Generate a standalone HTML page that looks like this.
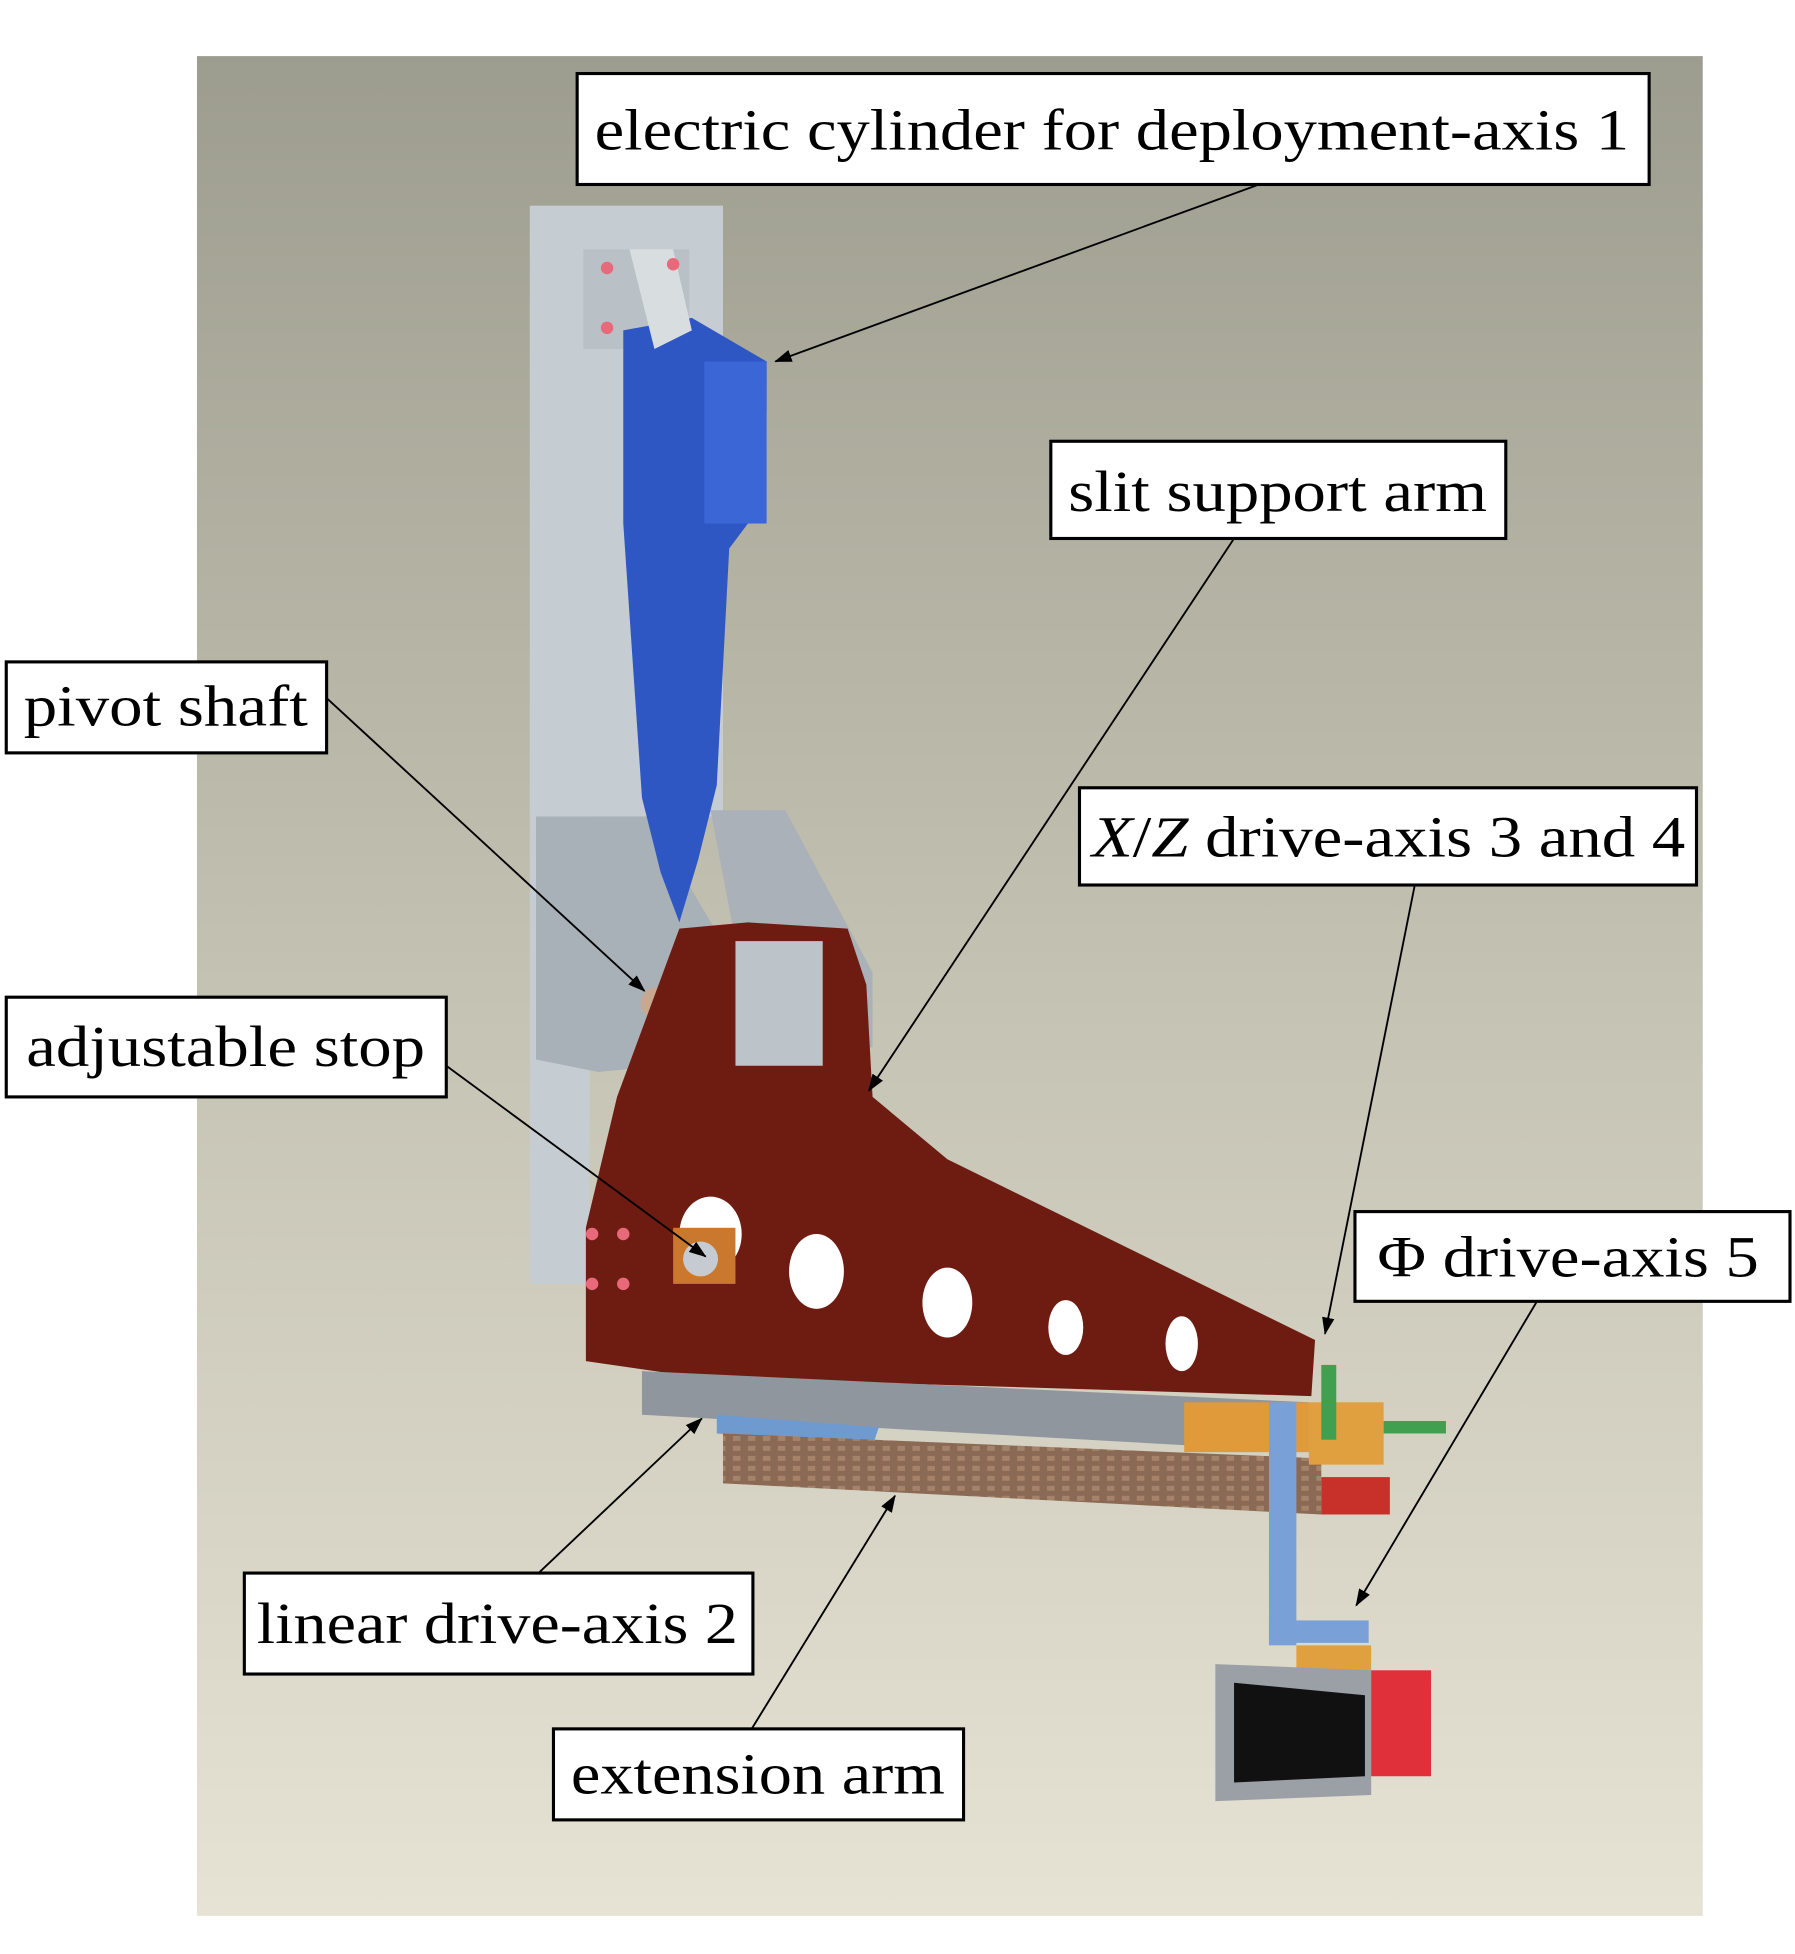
<!DOCTYPE html>
<html><head><meta charset="utf-8"><style>
html,body{margin:0;padding:0;background:#fff;}
svg{display:block;}
text{font-family:"Liberation Serif",serif;font-size:47px;fill:#000;}
</style></head><body>
<svg width="1795" height="1954" viewBox="0 0 1440 1567.6" xmlns="http://www.w3.org/2000/svg">
<defs>
<linearGradient id="bg" x1="0" y1="0" x2="0" y2="1">
<stop offset="0" stop-color="#9d9d8f"/><stop offset="0.5" stop-color="#c4c2b2"/><stop offset="1" stop-color="#e6e2d4"/>
</linearGradient>
<marker id="ar" markerWidth="14" markerHeight="10" refX="13" refY="5" orient="auto" markerUnits="userSpaceOnUse">
<path d="M0,0 L14,5 L0,10 z" fill="#000"/></marker>
<pattern id="st" width="12" height="8" patternUnits="userSpaceOnUse">
<rect width="12" height="8" fill="#8a6a55"/><rect width="6" height="4" fill="#a5826a"/></pattern>
</defs>
<rect x="0" y="0" width="1440" height="1568" fill="#fff"/>
<rect x="158" y="45" width="1208" height="1492" fill="url(#bg)"/>
<rect x="425" y="165" width="155" height="490" fill="#c6cdd2"/>
<rect x="425" y="650" width="48" height="380" fill="#c6cdd2"/>
<rect x="468" y="200" width="85" height="80" fill="#b9c0c6"/>
<polygon points="430,655 520,655 600,790 580,850 480,860 430,850" fill="#a8b0b8"/>
<polygon points="570,650 630,650 700,780 700,840 610,860" fill="#aab1b8"/>
<circle cx="527" cy="805" r="13" fill="#c8a890"/>
<polygon points="500,265 555,255 615,290 615,330 600,420 585,440 575,630 560,690 545,740 530,700 515,640 500,420" fill="#2f57c4"/>
<rect x="565" y="290" width="50" height="130" fill="#3a66d6"/>
<polygon points="505,200 540,200 555,265 525,280" fill="#d8dde0"/>
<polygon points="545,745 600,740 680,745 695,790 700,880 760,930 1055,1075 1052,1120 560,1105 470,1092 470,985 495,880" fill="#6e1c12"/>
<rect x="590" y="755" width="70" height="100" fill="#bcc4ca"/>
<ellipse cx="570" cy="990" rx="25" ry="30" fill="#fff"/>
<ellipse cx="655" cy="1020" rx="22" ry="30" fill="#fff"/>
<ellipse cx="760" cy="1045" rx="20" ry="28" fill="#fff"/>
<ellipse cx="855" cy="1065" rx="14" ry="22" fill="#fff"/>
<ellipse cx="948" cy="1078" rx="13" ry="22" fill="#fff"/>
<rect x="540" y="985" width="50" height="45" fill="#c9782e"/>
<circle cx="562" cy="1010" r="14" fill="#c5cbd0"/>
<g fill="#e86a7a"><circle cx="475" cy="990" r="5"/><circle cx="500" cy="990" r="5"/><circle cx="475" cy="1030" r="5"/><circle cx="500" cy="1030" r="5"/><circle cx="487" cy="215" r="5"/><circle cx="540" cy="212" r="5"/><circle cx="487" cy="263" r="5"/></g>
<polygon points="515,1100 1050,1125 1050,1165 515,1135" fill="#8f969d"/>
<polygon points="575,1135 705,1145 700,1160 575,1150" fill="#6f9ad0"/>
<polygon points="580,1150 1060,1170 1060,1215 580,1190" fill="url(#st)"/>
<rect x="950" y="1125" width="100" height="40" fill="#e09a3a"/>
<rect x="1060" y="1185" width="55" height="30" fill="#c8302a"/>
<rect x="1050" y="1125" width="60" height="50" fill="#e0a040"/>
<rect x="1018" y="1125" width="22" height="195" fill="#7aa0d8"/>
<rect x="1018" y="1300" width="80" height="18" fill="#7aa0d8"/>
<rect x="1060" y="1095" width="12" height="60" fill="#40a050"/>
<rect x="1110" y="1140" width="50" height="10" fill="#40a050"/>
<rect x="1040" y="1320" width="60" height="22" fill="#e0a040"/>
<polygon points="975,1335 1100,1340 1100,1440 975,1445" fill="#9aa0a6"/>
<polygon points="990,1350 1095,1360 1095,1425 990,1430" fill="#111"/>
<rect x="1100" y="1340" width="48" height="85" fill="#e0303a"/>
<g stroke="#000" stroke-width="1.5" fill="none" marker-end="url(#ar)">
<line x1="1010" y1="148" x2="622" y2="290"/>
<line x1="990" y1="432" x2="697" y2="875"/>
<line x1="262" y1="560" x2="517" y2="795"/>
<line x1="1135" y1="710" x2="1063" y2="1070"/>
<line x1="358" y1="855" x2="566" y2="1008"/>
<line x1="1233" y1="1044" x2="1088" y2="1288"/>
<line x1="432" y1="1262" x2="563" y2="1138"/>
<line x1="603" y1="1387" x2="718" y2="1200"/>
</g>
<g fill="#fff" stroke="#000" stroke-width="2.5">
<rect x="463" y="59" width="860" height="89"/>
<rect x="843" y="354" width="365" height="78"/>
<rect x="5" y="531" width="257" height="73"/>
<rect x="866" y="632" width="495" height="78"/>
<rect x="5" y="800" width="353" height="80"/>
<rect x="1087" y="972" width="349" height="72"/>
<rect x="196" y="1262" width="408" height="81"/>
<rect x="444" y="1387" width="329" height="73"/>
</g>
<g lengthAdjust="spacingAndGlyphs">
<text x="477" y="120" textLength="830" lengthAdjust="spacingAndGlyphs">electric cylinder for deployment-axis 1</text>
<text x="857" y="410" textLength="336" lengthAdjust="spacingAndGlyphs">slit support arm</text>
<text x="19" y="582" textLength="228" lengthAdjust="spacingAndGlyphs">pivot shaft</text>
<text x="876" y="687" textLength="476" lengthAdjust="spacingAndGlyphs"><tspan font-style="italic">X</tspan>/<tspan font-style="italic">Z</tspan> drive-axis 3 and 4</text>
<text x="21" y="855" textLength="320" lengthAdjust="spacingAndGlyphs">adjustable stop</text>
<text x="1105" y="1024" textLength="306" lengthAdjust="spacingAndGlyphs">Φ drive-axis 5</text>
<text x="206" y="1318" textLength="386" lengthAdjust="spacingAndGlyphs">linear drive-axis 2</text>
<text x="458" y="1439" textLength="300" lengthAdjust="spacingAndGlyphs">extension arm</text>
</g>
</svg>
</body></html>
